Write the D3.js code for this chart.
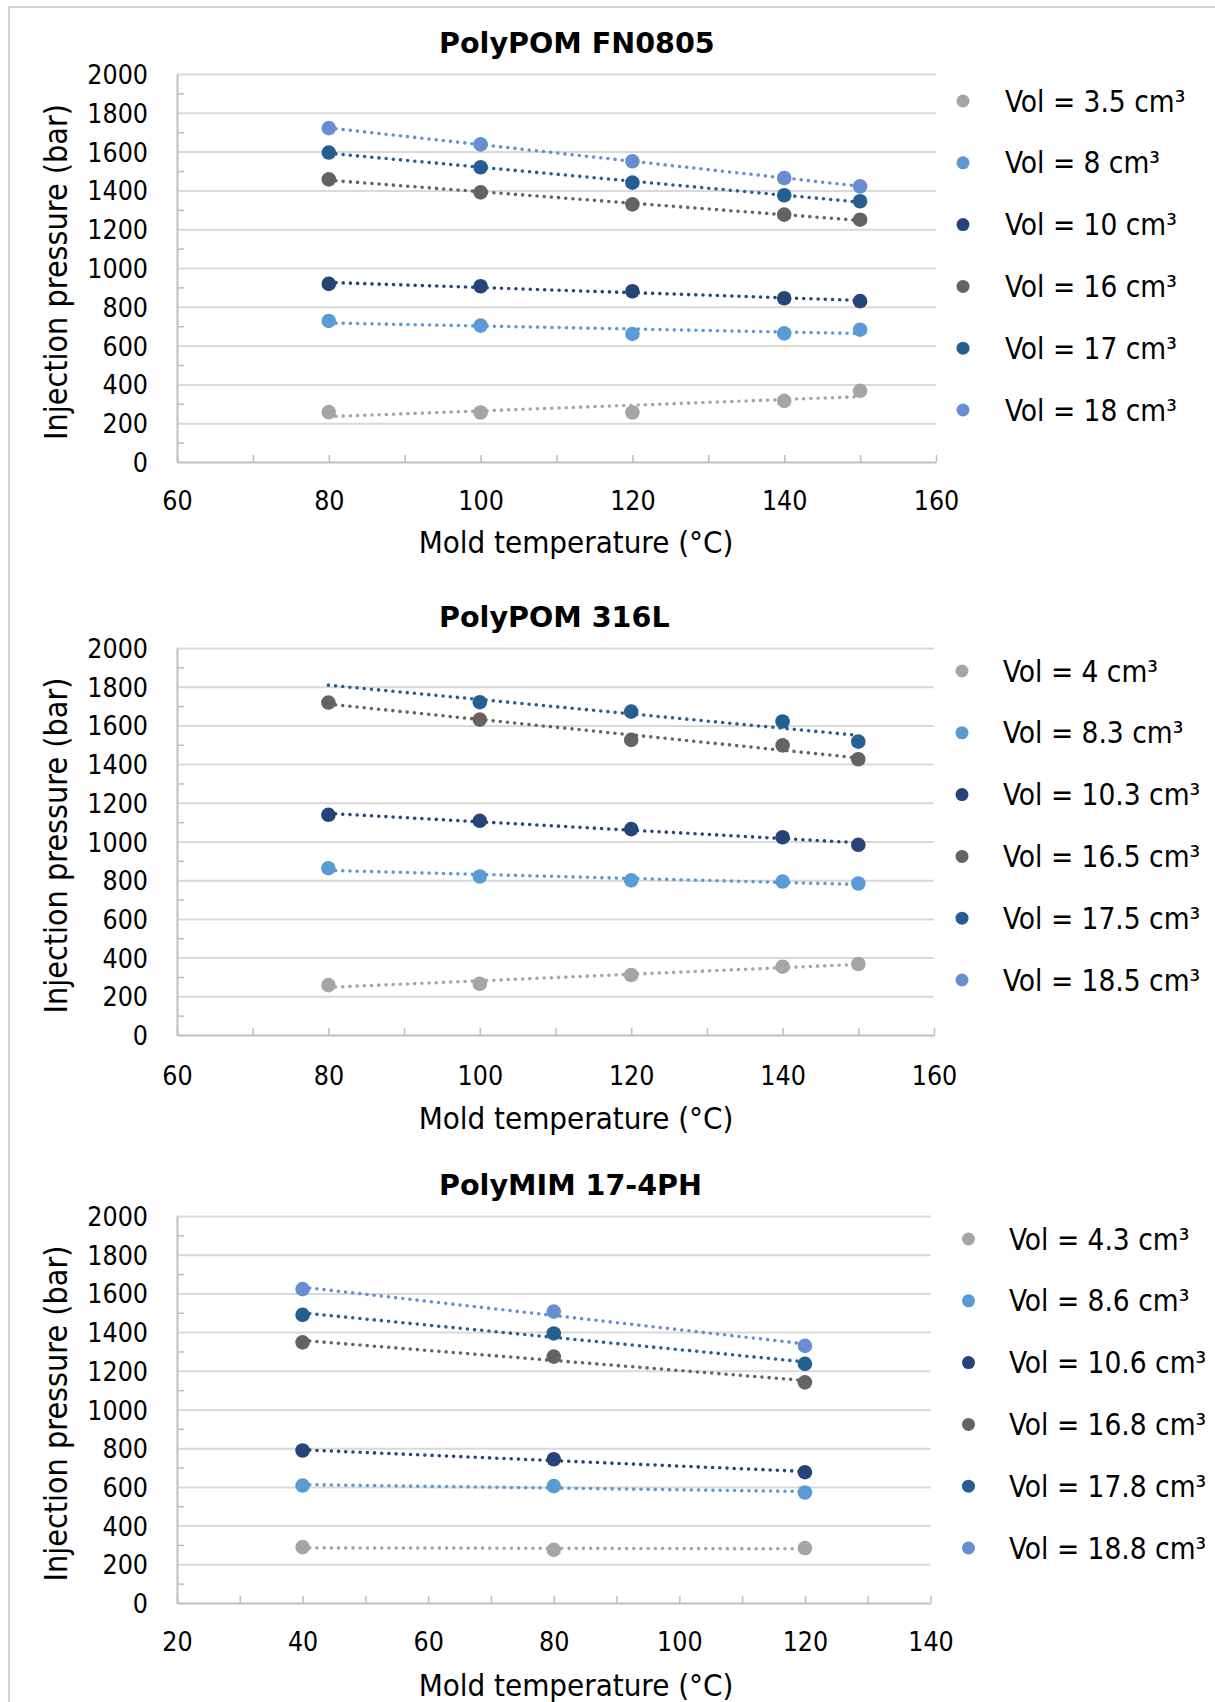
<!DOCTYPE html>
<html>
<head>
<meta charset="utf-8">
<script src="https://cdn.jsdelivr.net/npm/d3@7"></script>
<style>
  body { margin: 0; background: #fff; }
  svg text { font-family: "DejaVu Sans", sans-serif; font-stretch: condensed; fill: #000; }
</style>
</head>
<body>
<svg id="chart" width="1215" height="1702"></svg>
<script>
// --- Daten ---
const seriesColors = ['#A5A5A5', '#5B9BD5', '#264478', '#636363', '#255E91', '#698ED0'];
const yTickValues = [0, 200, 400, 600, 800, 1000, 1200, 1400, 1600, 1800, 2000];

// PolyPOM FN0805
const fnTemps = [80, 100, 120, 140, 150];
const fnLabels = ['Vol = 3.5 cm³', 'Vol = 8 cm³', 'Vol = 10 cm³', 'Vol = 16 cm³', 'Vol = 17 cm³', 'Vol = 18 cm³'];
const fnPressure = [
  [257, 255, 255, 315, 367],
  [727, 703, 660, 663, 682],
  [918, 906, 880, 844, 829],
  [1457, 1390, 1328, 1275, 1249],
  [1595, 1519, 1440, 1375, 1344],
  [1721, 1637, 1550, 1464, 1421]
];

// PolyPOM 316L
const slTemps = [80, 100, 120, 140, 150];
const slLabels = ['Vol = 4 cm³', 'Vol = 8.3 cm³', 'Vol = 10.3 cm³', 'Vol = 16.5 cm³', 'Vol = 17.5 cm³', 'Vol = 18.5 cm³'];
const slPressure = [
  [258, 265, 310, 353, 367],
  [862, 819, 799, 793, 783],
  [1138, 1107, 1064, 1022, 983],
  [1718, 1630, 1525, 1497, 1425],
  [null, 1720, 1671, 1620, 1516],
  [null, null, null, null, null]
];

// PolyMIM 17-4PH
const phTemps = [40, 80, 120];
const phLabels = ['Vol = 4.3 cm³', 'Vol = 8.6 cm³', 'Vol = 10.6 cm³', 'Vol = 16.8 cm³', 'Vol = 17.8 cm³', 'Vol = 18.8 cm³'];
const phPressure = [
  [289, 275, 284],
  [607, 604, 571],
  [788, 743, 676],
  [1347, 1273, 1140],
  [1489, 1393, 1236],
  [1622, 1506, 1329]
];

const svg = d3.select('#chart');

// Rahmen (rechts/unten abgeschnitten)
svg.append('rect')
  .attr('x', 9).attr('y', 7)
  .attr('width', 1400).attr('height', 2000)
  .attr('fill', 'none')
  .attr('stroke', '#D0D0D0')
  .attr('stroke-width', 2);

/**
 * Lineare Trendlinie (kleinste Quadrate) ueber die vorhandenen Punkte
 */
function linearTrend(xs, ys) {
  const pts = xs.map((x, i) => [x, ys[i]]).filter(p => p[1] !== null);
  if (pts.length < 2) return null;
  const mx = d3.mean(pts, p => p[0]);
  const my = d3.mean(pts, p => p[1]);
  const sxy = d3.sum(pts, p => (p[0] - mx) * (p[1] - my));
  const sxx = d3.sum(pts, p => (p[0] - mx) ** 2);
  const b = sxy / sxx;
  return x => my + b * (x - mx);
}

function drawChart(cfg) {
  const g = svg.append('g');
  const x = d3.scaleLinear().domain(cfg.xDomain).range([cfg.left, cfg.right]);
  const y = d3.scaleLinear().domain([0, 2000]).range([cfg.bottom, cfg.top]);

  const xMinor = d3.range(cfg.xDomain[0], cfg.xDomain[1] + 1, 10);
  const xMajor = d3.range(cfg.xDomain[0], cfg.xDomain[1] + 1, 20);
  const yMinor = d3.range(100, 2000, 200);

  // Gitterlinien
  g.append('g')
    .attr('transform', `translate(${cfg.left},0)`)
    .call(d3.axisLeft(y).tickValues(yTickValues.slice(1)).tickSize(-(cfg.right - cfg.left)).tickFormat(''))
    .call(a => a.select('.domain').remove())
    .call(a => a.selectAll('line').attr('stroke', '#D9D9D9').attr('stroke-width', 2));

  // y-Achse mit kleinen Innenstrichen
  g.append('g')
    .attr('transform', `translate(${cfg.left},0)`)
    .call(d3.axisRight(y).tickValues(yMinor).tickSize(7).tickFormat('').tickSizeOuter(0))
    .call(a => a.select('.domain').attr('stroke', '#BFBFBF').attr('stroke-width', 2))
    .call(a => a.selectAll('line').attr('stroke', '#BFBFBF').attr('stroke-width', 1.5));

  // y-Beschriftung
  g.append('g')
    .attr('transform', `translate(${cfg.left},0)`)
    .call(d3.axisLeft(y).tickValues(yTickValues).tickFormat(d3.format('d')).tickSize(0).tickPadding(cfg.left - 148))
    .call(a => a.select('.domain').remove())
    .call(a => a.selectAll('text')
      .attr('font-size', 26.5)
      .attr('font-family', null)
      .attr('dy', '0.36em'));

  // x-Achse mit Innenstrichen
  g.append('g')
    .attr('transform', `translate(0,${cfg.bottom})`)
    .call(d3.axisTop(x).tickValues(xMinor).tickSize(7).tickFormat('').tickSizeOuter(0))
    .call(a => a.select('.domain').attr('stroke', '#BFBFBF').attr('stroke-width', 2))
    .call(a => a.selectAll('line').attr('stroke', '#BFBFBF').attr('stroke-width', 1.5));

  // x-Beschriftung
  g.append('g')
    .attr('transform', `translate(0,${cfg.bottom})`)
    .call(d3.axisBottom(x).tickValues(xMajor).tickFormat(d3.format('d')).tickSize(0))
    .call(a => a.select('.domain').remove())
    .call(a => a.selectAll('text')
      .attr('font-size', 26.5)
      .attr('font-family', null)
      .attr('y', cfg.xLabelY - cfg.bottom)
      .attr('dy', 0));

  // Titel
  g.append('text')
    .attr('x', 439).attr('y', cfg.titleY)
    .attr('font-size', 28.6).attr('font-weight', 'bold')
    .style('font-stretch', 'normal')
    .text(cfg.title);

  // Achsentitel
  g.append('text')
    .attr('x', 576).attr('y', cfg.xTitleY)
    .attr('text-anchor', 'middle')
    .attr('font-size', 31)
    .text('Mold temperature (°C)');

  g.append('text')
    .attr('transform', `translate(67,${(cfg.top + cfg.bottom) / 2 + 4}) rotate(-90)`)
    .attr('text-anchor', 'middle')
    .attr('font-size', 32)
    .text('Injection pressure (bar)');

  // Trendlinien und Punkte
  const tMin = d3.min(cfg.temps), tMax = d3.max(cfg.temps);
  cfg.values.forEach((vals, si) => {
    const color = seriesColors[si];
    const pts = cfg.temps.map((t, i) => ({ t, v: vals[i] })).filter(d => d.v !== null);

    g.append('g').selectAll('circle')
      .data(pts)
      .join('circle')
      .attr('cx', d => x(d.t))
      .attr('cy', d => y(d.v))
      .attr('r', 7.3)
      .attr('fill', color);

    const trend = linearTrend(cfg.temps, vals);
    if (trend) {
      g.append('path')
        .attr('d', d3.line()([[x(tMin), y(trend(tMin))], [x(tMax), y(trend(tMax))]]))
        .attr('stroke', color)
        .attr('stroke-width', 3.6)
        .attr('stroke-linecap', 'round')
        .attr('stroke-dasharray', '0 7.2')
        .attr('fill', 'none');
    }
  });

  // Legende
  const leg = g.append('g').selectAll('g')
    .data(cfg.labels)
    .join('g')
    .attr('transform', (d, i) => `translate(0,${cfg.legendY0 + i * 61.8})`);
  leg.append('circle')
    .attr('cx', cfg.legendX).attr('cy', 0).attr('r', 6.5)
    .attr('fill', (d, i) => seriesColors[i]);
  leg.append('text')
    .attr('x', cfg.legendTextX).attr('y', 0).attr('dy', '0.36em')
    .attr('font-size', 29.5)
    .text(d => d);
}

drawChart({
  title: 'PolyPOM FN0805', temps: fnTemps, labels: fnLabels, values: fnPressure,
  xDomain: [60, 160], left: 177, right: 936, top: 74, bottom: 462,
  titleY: 53, xLabelY: 510, xTitleY: 553,
  legendX: 963, legendTextX: 1005, legendY0: 101
});

drawChart({
  title: 'PolyPOM 316L', temps: slTemps, labels: slLabels, values: slPressure,
  xDomain: [60, 160], left: 177, right: 934, top: 648, bottom: 1035,
  titleY: 627, xLabelY: 1085, xTitleY: 1129,
  legendX: 962, legendTextX: 1003, legendY0: 671
});

drawChart({
  title: 'PolyMIM 17-4PH', temps: phTemps, labels: phLabels, values: phPressure,
  xDomain: [20, 140], left: 177, right: 930.5, top: 1216, bottom: 1603,
  titleY: 1195, xLabelY: 1651, xTitleY: 1696,
  legendX: 968.5, legendTextX: 1009, legendY0: 1239
});
</script>
</body>
</html>
